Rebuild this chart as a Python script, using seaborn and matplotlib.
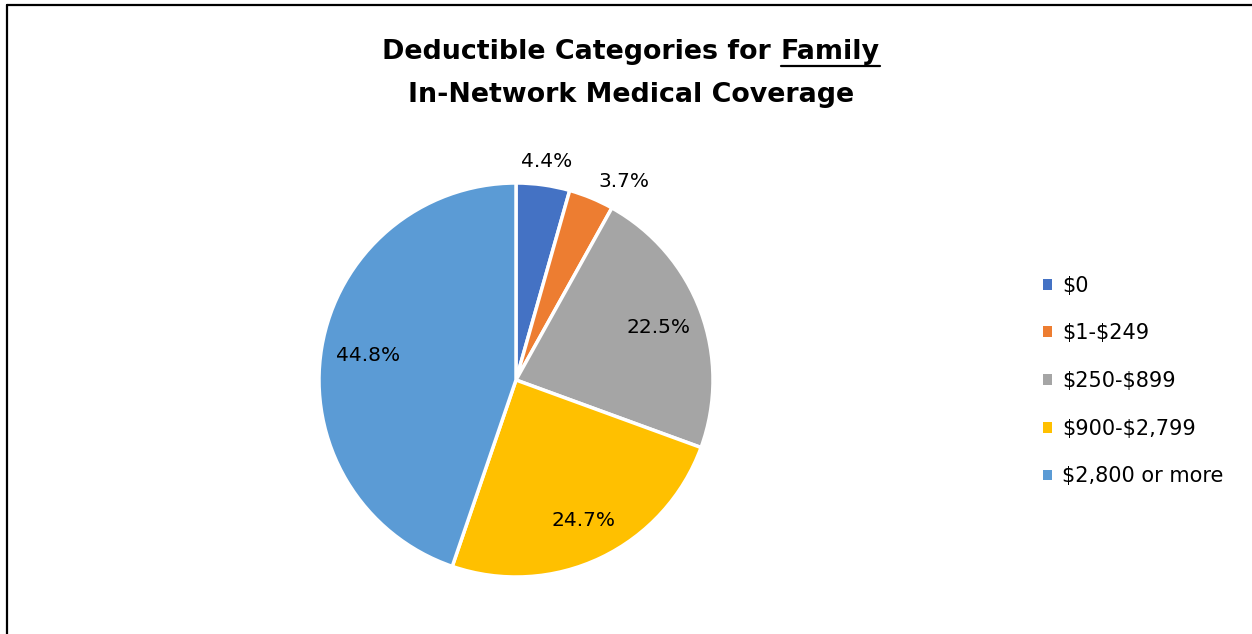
import numpy as np
import matplotlib
matplotlib.use("Agg")
import matplotlib.pyplot as plt
from matplotlib.lines import Line2D
from matplotlib.patches import Rectangle
import seaborn as sns

categories = ["$0", "$1-$249", "$250-$899", "$900-$2,799", "$2,800 or more"]
shares = [4.4, 3.7, 22.5, 24.7, 44.8]
colors = ["#4472C4", "#ED7D31", "#A5A5A5", "#FFC000", "#5B9BD5"]
title_line1 = "Deductible Categories for "
title_emph = "Family"
title_line2 = "In-Network Medical Coverage"

# label distance from centre (in radii) and alignment for each wedge
label_dist = [1.12, 1.09, 0.77, 0.79, 0.76]
label_ha = ["center", "left", "center", "center", "center"]

sns.set_theme(style="white")
plt.rcParams["font.family"] = ["DejaVu Sans"]
plt.rcParams["text.parse_math"] = False
plt.rcParams["text.color"] = "black"

W, H = 1252, 634
fig = plt.figure(figsize=(W / 100, H / 100), dpi=100)
fig.patch.set_facecolor("white")

# pie axes: radius 197 px, centre at (516, 380) px from top-left
R = 197
cx, cy = 516, 380
span = 2.5 * R
ax = fig.add_axes([(cx - span / 2) / W, (H - cy - span / 2) / H, span / W, span / H])

wedges, _ = ax.pie(shares, colors=colors, startangle=90, counterclock=False,
                   wedgeprops=dict(edgecolor="white", linewidth=2.5))
ax.set_xlim(-1.25, 1.25)
ax.set_ylim(-1.25, 1.25)
ax.set_aspect("equal")
ax.axis("off")

for w, v, d, ha in zip(wedges, shares, label_dist, label_ha):
    mid = np.deg2rad((w.theta1 + w.theta2) / 2)
    ax.text(d * np.cos(mid), d * np.sin(mid), f"{v:.1f}%", ha=ha, va="center",
            fontsize=14.5, color="black")

# legend
handles = [Rectangle((0, 0), 1, 1, facecolor=c, edgecolor="none") for c in colors]
leg = fig.legend(handles, categories, loc="center left", bbox_to_anchor=(1035 / W, 1 - 381 / H),
                 frameon=False, fontsize=15, handlelength=0.42, handleheight=0.42,
                 handletextpad=0.5, labelspacing=1.33, borderaxespad=0)
for t in leg.get_texts():
    t.set_color("black")

# title with underlined word
TS = 19.4
fig.canvas.draw()
renderer = fig.canvas.get_renderer()
t_main = fig.text(0, 0, title_line1, fontsize=TS, fontweight="bold", alpha=0)
t_emph = fig.text(0, 0, title_emph, fontsize=TS, fontweight="bold", alpha=0)
w_main = t_main.get_window_extent(renderer).width
w_emph = t_emph.get_window_extent(renderer).width
t_main.remove()
t_emph.remove()
total = w_main + w_emph
xc = 631
x0 = xc - total / 2
y1 = 1 - 59 / H
fig.text(x0 / W, y1, title_line1, fontsize=TS, fontweight="bold", ha="left", va="baseline")
fig.text((x0 + w_main) / W, y1, title_emph, fontsize=TS, fontweight="bold", ha="left", va="baseline")
uy = 1 - 65.5 / H
fig.add_artist(Line2D([(x0 + w_main) / W, (x0 + total) / W], [uy, uy], color="black", lw=1.6))
fig.text(xc / W, 1 - 102 / H, title_line2, fontsize=TS, fontweight="bold", ha="center", va="baseline")

# frame around the figure panel
fig.add_artist(Line2D([7 / W, 7 / W], [0, 1 - 5 / H], color="black", lw=1.6))
fig.add_artist(Line2D([7 / W, 1], [1 - 5 / H, 1 - 5 / H], color="black", lw=1.6))

fig.savefig("out.png", dpi=100)
